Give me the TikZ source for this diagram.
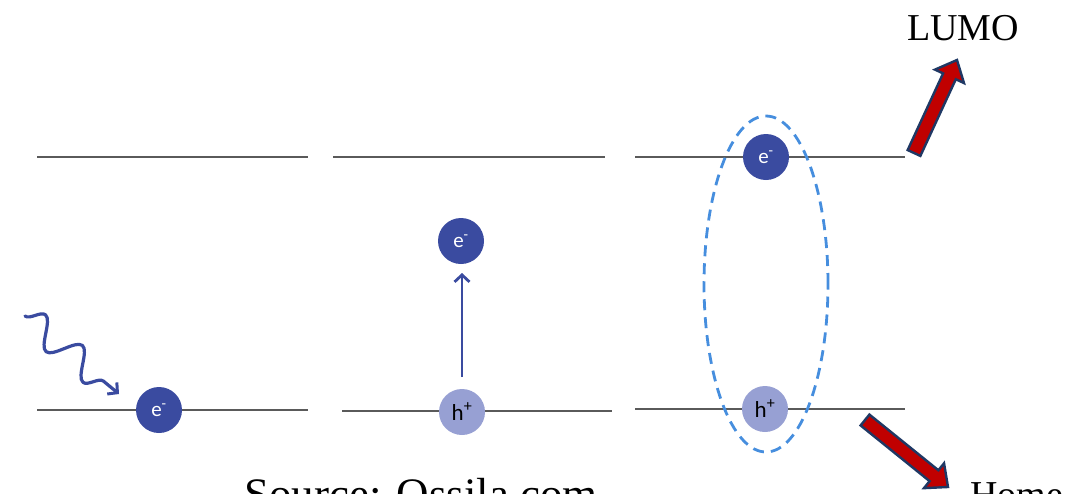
\documentclass[tikz,border=0pt]{standalone}
\usepackage{fontspec}
\setmainfont{Liberation Serif}
\newfontfamily\labfont{Carlito}
\usetikzlibrary{shapes.geometric,arrows.meta,decorations.pathmorphing,calc}
\definecolor{dblue}{RGB}{58,75,160}
\definecolor{lblue}{RGB}{151,160,211}
\definecolor{lvl}{RGB}{90,90,90}
\definecolor{dash}{RGB}{70,142,222}
\definecolor{ared}{RGB}{192,0,0}
\definecolor{aborder}{RGB}{31,56,100}
\tikzset{
  level/.style={draw=lvl,line width=2.2pt},
  elec/.style={circle,fill=dblue,minimum size=46pt,inner sep=0pt,text=white,font=\labfont\fontsize{21}{21}\selectfont},
  hole/.style={circle,fill=lblue,minimum size=46pt,inner sep=0pt,text=black,font=\labfont\fontsize{23}{23}\selectfont},
  blockarrow/.style={draw=aborder,line width=2.4pt,fill=ared,line join=miter},
  bigtext/.style={font=\fontsize{38}{38}\selectfont,inner sep=0pt}
}
\newcommand{\blockarr}[2]{%
  \coordinate (hb) at ($(#2)!18pt!(#1)$);
  \draw[blockarrow] ($(#1)!7pt!90:(#2)$) -- ($(hb)!7pt!-90:(#1)$) -- ($(hb)!16pt!-90:(#1)$) -- (#2)
    -- ($(hb)!16pt!90:(#1)$) -- ($(hb)!7pt!90:(#1)$) -- ($(#1)!7pt!-90:(#2)$) -- cycle;}
\begin{document}
\begin{tikzpicture}[x=1pt,y=-1pt]
\useasboundingbox (0,0) rectangle (1089,493);
\clip (0,0) rectangle (1089,493);
% levels
\coordinate (t1a) at (37,157); \coordinate (t1b) at (308,157);
\coordinate (t2a) at (333,157); \coordinate (t2b) at (605,157);
\coordinate (t3a) at (635,157); \coordinate (t3b) at (905,157);
\coordinate (b1a) at (37,410); \coordinate (b1b) at (308,410);
\coordinate (b2a) at (342,411); \coordinate (b2b) at (612,411);
\coordinate (b3a) at (635,409); \coordinate (b3b) at (905,409);
\draw[level] (t1a) -- (t1b);
\draw[level] (t2a) -- (t2b);
\draw[level] (t3a) -- (t3b);
\draw[level] (b1a) -- (b1b);
\draw[level] (b2a) -- (b2b);
\draw[level] (b3a) -- (b3b);
% panel 1
\node[elec] (e1) at (159,410) {e\textsuperscript{-}};
\coordinate (w0) at (25,316);
\coordinate (w1) at (119,394);
\draw[dblue,line width=3.2pt,line cap=round,line join=round,-{Straight Barb[length=7pt,width=15pt,line width=3pt]},
  decorate,decoration={snake,amplitude=14pt,segment length=48pt,post length=9pt}] (w0) -- (w1);
% panel 2
\node[hole] (h2) at (462,412) {h\textsuperscript{+}};
\node[elec] (e2) at (461,241) {e\textsuperscript{-}};
\coordinate (v0) at (462,377);
\coordinate (v1) at (462,273);
\draw[dblue,line width=2.8pt,-{Straight Barb[length=7pt,width=15pt,line width=2.8pt]}] (v0) -- (v1);
% panel 3
\node[elec] (e3) at (766,157) {e\textsuperscript{-}};
\node[hole] (h3) at (765,409) {h\textsuperscript{+}};
\node[ellipse,draw=dash,line width=2.8pt,dash pattern=on 11pt off 7pt,minimum width=124pt,minimum height=336pt,inner sep=0pt] (ex) at (766,284) {};
% block arrows
\coordinate (lt) at (914,153); \coordinate (lp) at (957,60);
\blockarr{lt}{lp}
\coordinate (ht) at (865,420); \coordinate (hp) at (948,487);
\blockarr{ht}{hp}
% texts
\node[bigtext,anchor=base west] (lumo) at (907,40) {LUMO};
\node[bigtext,anchor=base west] (home) at (970,507) {Home};
\node[font=\fontsize{45}{45}\selectfont,inner sep=0pt,anchor=base west] (src) at (244,509) {Source: Ossila.com};
\end{tikzpicture}
\end{document}
